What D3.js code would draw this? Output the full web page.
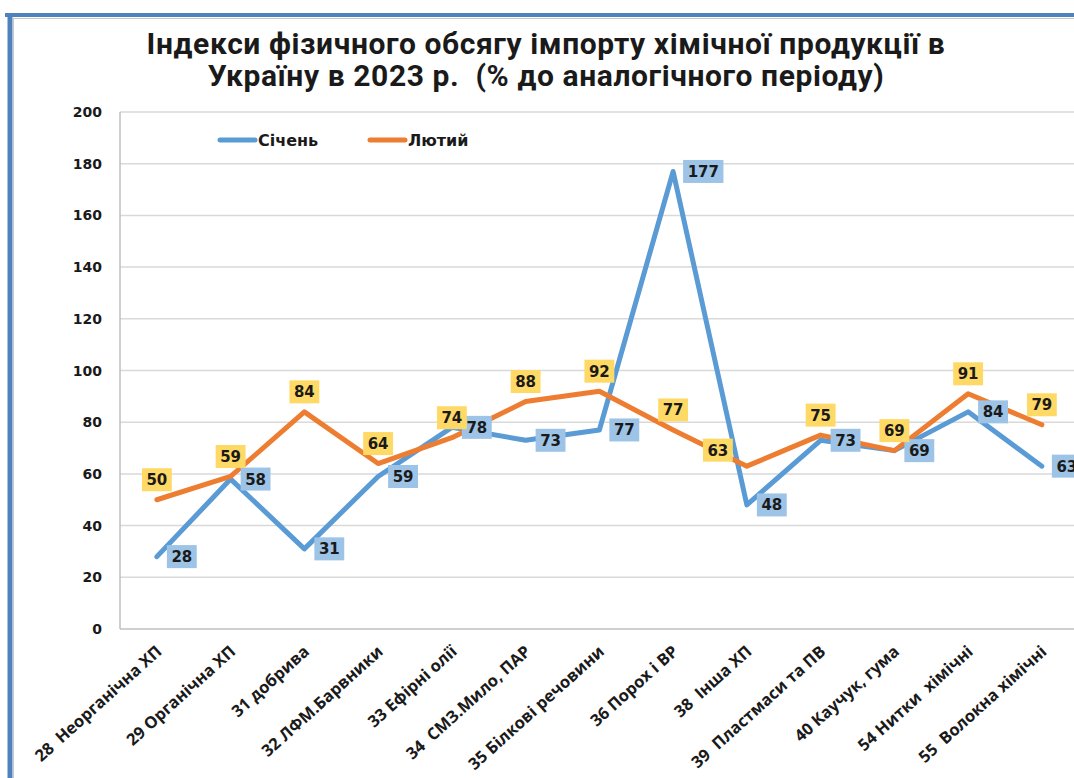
<!DOCTYPE html>
<meta charset="utf-8">
<style>
  body { margin: 0; background: #fff; }
  svg { display: block; }
  .title { font-family: Roboto, sans-serif; font-weight: bold; font-size: 30px; letter-spacing: 0.6px; fill: #1a1a1a; text-anchor: middle; white-space: pre; }
  .ytick { font-family: "DejaVu Sans", Verdana, sans-serif; font-weight: bold; font-size: 14px; fill: #1a1a1a; text-anchor: end; }
  .xtick { font-family: "Open Sans", sans-serif; font-weight: bold; font-size: 16.5px; fill: #1a1a1a; text-anchor: end; white-space: pre; }
  .legend text { font-family: "DejaVu Sans", sans-serif; font-weight: bold; font-size: 16px; fill: #1a1a1a; }
  .dlabel { font-family: "DejaVu Sans", Verdana, sans-serif; font-weight: bold; font-size: 15px; fill: #1a1a1a; }
  .grid line { stroke: #d9d9d9; stroke-width: 1.5; }
</style>

<svg class="chart" width="1074" height="778"></svg>

<script src="https://d3js.org/d3.v7.min.js"></script>
<script>

  var categories = ["28  Неорганічна ХП", "29 Органічна ХП", "31 добрива", "32 ЛФМ.Барвники",
                    "33 Ефірні олії", "34  СМЗ.Мило, ПАР", "35 Білкові речовини", "36 Порох і ВР",
                    "38  Інша ХП", "39  Пластмаси та ПВ", "40 Каучук, гума", "54 Нитки  хімічні",
                    "55  Волокна хімічні"];
  var january  = [28, 58, 31, 59, 78, 73, 77, 177, 48, 73, 69, 84, 63];
  var february = [50, 59, 84, 64, 74, 88, 92, 77, 63, 75, 69, 91, 79];
  var yTicks = [0, 20, 40, 60, 80, 100, 120, 140, 160, 180, 200];
  var seriesNames = ["Січень", "Лютий"];
  var titleLines = ["Індекси фізичного обсягу імпорту хімічної продукції в",
                    "Україну в 2023 р.  (% до аналогічного періоду)"];

  var svg = d3.select(".chart"),
      width = +svg.attr("width"),
      height = +svg.attr("height");

  var plotLeft = 120, plotTop = 112, plotBottom = 629, band = 73.75;

  var x = d3.scaleBand()
      .domain(categories)
      .range([plotLeft, plotLeft + band * categories.length]);
  var cx = function (c) { return x(c) + x.bandwidth() / 2; };

  var y = d3.scaleLinear()
      .domain([0, 200])
      .range([plotBottom, plotTop]);

  // frame
  svg.append("line").attr("x1", 5).attr("x2", width).attr("y1", 15).attr("y2", 15)
      .attr("stroke", "#4f81bd").attr("stroke-width", 4);
  svg.append("line").attr("x1", 10).attr("x2", 10).attr("y1", 13).attr("y2", height)
      .attr("stroke", "#4f81bd").attr("stroke-width", 5);
  svg.append("line").attr("x1", 13).attr("x2", width).attr("y1", 18.5).attr("y2", 18.5)
      .attr("stroke", "#c8c8c8").attr("stroke-width", 1);
  svg.append("line").attr("x1", 13.5).attr("x2", 13.5).attr("y1", 18).attr("y2", height)
      .attr("stroke", "#c8c8c8").attr("stroke-width", 1);

  // title
  svg.append("text").attr("class", "title")
      .selectAll("tspan")
      .data(titleLines)
      .enter().append("tspan")
        .attr("x", 546)
        .attr("y", function (d, i) { return 54 + i * 32; })
        .text(function (d) { return d; });

  // gridlines
  svg.append("g").attr("class", "grid")
      .selectAll("line")
      .data(yTicks.slice(1))
      .enter().append("line")
        .attr("x1", plotLeft).attr("x2", width)
        .attr("y1", function (d) { return y(d); })
        .attr("y2", function (d) { return y(d); });

  svg.append("line").attr("x1", plotLeft).attr("x2", plotLeft).attr("y1", plotTop).attr("y2", plotBottom)
      .attr("stroke", "#bfbfbf").attr("stroke-width", 1.5);
  svg.append("line").attr("x1", plotLeft).attr("x2", width).attr("y1", plotBottom).attr("y2", plotBottom)
      .attr("stroke", "#bfbfbf").attr("stroke-width", 1.5);

  svg.append("g")
      .selectAll("text")
      .data(yTicks)
      .enter().append("text")
        .attr("class", "ytick")
        .attr("x", 102)
        .attr("y", function (d) { return y(d) + 5; })
        .text(function (d) { return d; });

  svg.append("g")
      .selectAll("text")
      .data(categories)
      .enter().append("text")
        .attr("class", "xtick")
        .attr("transform", function (d) { return "translate(" + (cx(d) + 6) + ",653) rotate(-42)"; })
        .text(function (d) { return d; });

  // lines
  var line = d3.line()
      .x(function (d, i) { return cx(categories[i]); })
      .y(function (d) { return y(d); });

  var series = [
    { name: seriesNames[0], values: january,  color: "#5b9bd5", box: "#9dc3e6", pos: "right" },
    { name: seriesNames[1], values: february, color: "#ed7d31", box: "#ffd966", pos: "above" }
  ];
  // hand-moved label in the original
  var labelShift = { "Лютий|38  Інша ХП": [-29, 4] };

  series.forEach(function (s) {
    svg.append("path")
        .datum(s.values)
        .attr("fill", "none")
        .attr("stroke", s.color)
        .attr("stroke-width", 5)
        .attr("stroke-linejoin", "round")
        .attr("stroke-linecap", "round")
        .attr("d", line);
  });

  series.forEach(function (s) {
    var g = svg.append("g");
    s.values.forEach(function (v, i) {
      var c = categories[i];
      var px = cx(c), py = y(v);
      var lg = g.append("g");
      var t = lg.append("text").attr("class", "dlabel").text(v);
      var w = t.node().getComputedTextLength() + 9, h = 23;
      var bx, by;
      if (s.pos === "right") { bx = px + 10; by = py - h / 2; }
      else { bx = px - w / 2; by = py - 20 - h / 2; }
      var sh = labelShift[s.name + "|" + c];
      if (sh) { bx += sh[0]; by += sh[1]; }
      lg.insert("rect", "text")
          .attr("x", bx).attr("y", by).attr("width", w).attr("height", h)
          .attr("fill", s.box);
      t.attr("x", bx + 4.5).attr("y", by + 17);
    });
  });

  // legend
  var legend = svg.append("g").attr("class", "legend");
  var lx = [220, 370];
  series.forEach(function (s, i) {
    legend.append("line")
        .attr("x1", lx[i]).attr("x2", lx[i] + 35).attr("y1", 140).attr("y2", 140)
        .attr("stroke", s.color).attr("stroke-width", 5).attr("stroke-linecap", "round");
    legend.append("text")
        .attr("x", lx[i] + 38).attr("y", 146)
        .text(s.name);
  });

</script>
